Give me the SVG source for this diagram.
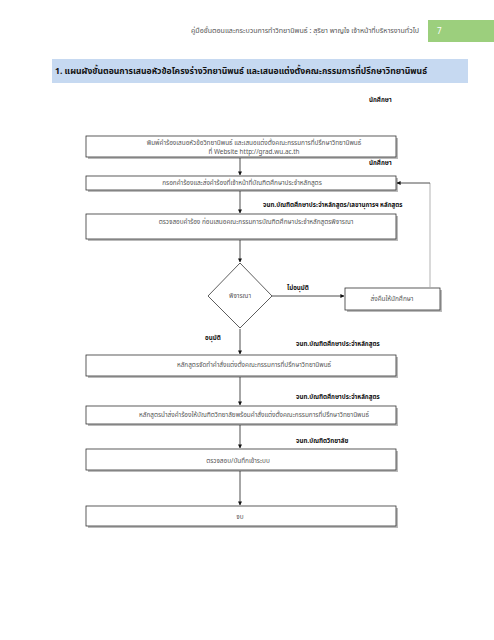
<svg xmlns="http://www.w3.org/2000/svg" width="494" height="640" viewBox="0 0 494 640">
<style>
text{font-family:"Noto Sans Thai","Noto Sans","DejaVu Sans","Liberation Sans",sans-serif;fill:#444}
.t{font-size:6.4px;text-anchor:middle;fill:#555}
.l{font-size:6.2px;font-weight:bold;fill:#111}
.box{fill:#fff;stroke:#333;stroke-width:0.8}
.sh{fill:#bbb}
.c{stroke:#222;stroke-width:0.8;fill:none}
</style>
<defs>
<marker id="ah" viewBox="0 0 10 10" refX="9" refY="5" markerWidth="5" markerHeight="5" orient="auto"><path d="M0,0 L10,5 L0,10 z" fill="#111"/></marker>
</defs>
<rect width="494" height="640" fill="#fff"/>
<g id="header">
<text x="191" y="33" textLength="228" lengthAdjust="spacingAndGlyphs" style="font-size:6.8px;fill:#555">คู่มือขั้นตอนและกระบวนการทำวิทยานิพนธ์ : สุริยา พาญใจ  เจ้าหน้าที่บริหารงานทั่วไป</text>
<rect x="428" y="20" width="66" height="22" fill="#9ccf7d"/>
<text x="437" y="34" style="font-size:8px;fill:#fff">7</text>
</g>
<g id="title">
<rect x="52" y="59" width="416" height="24" fill="#c6d9f1"/>
<text x="55" y="74" textLength="372" lengthAdjust="spacingAndGlyphs" style="font-size:9px;font-weight:bold;fill:#111">1.  แผนผังขั้นตอนการเสนอหัวข้อโครงร่างวิทยานิพนธ์ และเสนอแต่งตั้งคณะกรรมการที่ปรึกษาวิทยานิพนธ์</text>
</g>
<g id="labels">
<text class="l" x="369" y="102">นักศึกษา</text>
<text class="l" x="369" y="165">นักศึกษา</text>
<text class="l" x="263" y="207">จนท.บัณฑิตศึกษาประจำหลักสูตร/เลขานุการฯ หลักสูตร</text>
<text class="l" x="287" y="290">ไม่อนุมัติ</text>
<text class="l" x="205" y="340">อนุมัติ</text>
<text class="l" x="296" y="346">จนท.บัณฑิตศึกษาประจำหลักสูตร</text>
<text class="l" x="296" y="399">จนท.บัณฑิตศึกษาประจำหลักสูตร</text>
<text class="l" x="296" y="443">จนท.บัณฑิตวิทยาลัย</text>
</g>
<g id="n1">
<rect class="sh" x="88" y="138" width="310" height="21"/>
<rect class="box" x="86" y="136" width="310" height="21"/>
<text class="t" x="254" y="145">พิมพ์คำร้องเสนอหัวข้อวิทยานิพนธ์ และเสนอแต่งตั้งคณะกรรมการที่ปรึกษาวิทยานิพนธ์</text>
<text class="t" x="254" y="154">ที่ Website http://grad.wu.ac.th</text>
</g>
<g id="n2">
<rect class="sh" x="88" y="178" width="310" height="14"/>
<rect class="box" x="86" y="176" width="310" height="14"/>
<text class="t" x="242" y="185">กรอกคำร้องและส่งคำร้องที่เจ้าหน้าที่บัณฑิตศึกษาประจำหลักสูตร</text>
</g>
<g id="n3">
<rect class="sh" x="88" y="216" width="310" height="25"/>
<rect class="box" x="86" y="214" width="310" height="25"/>
<text class="t" x="256" y="224">ตรวจสอบคำร้อง ก่อนเสนอคณะกรรมการบัณฑิตศึกษาประจำหลักสูตรพิจารณา</text>
</g>
<g id="n4">
<path d="M240,263 L272,296 L240,328 L208,296 Z" class="box"/>
<text class="t" x="240" y="298">พิจารณา</text>
</g>
<g id="n5">
<rect class="sh" x="347" y="290" width="95" height="22"/>
<rect class="box" x="345" y="288" width="95" height="22"/>
<text class="t" x="392" y="301">ส่งคืนให้นักศึกษา</text>
</g>
<g id="n6">
<rect class="sh" x="88" y="357" width="310" height="21"/>
<rect class="box" x="86" y="355" width="310" height="21"/>
<text class="t" x="254" y="367">หลักสูตรจัดทำคำสั่งแต่งตั้งคณะกรรมการที่ปรึกษาวิทยานิพนธ์</text>
</g>
<g id="n7">
<rect class="sh" x="88" y="408" width="310" height="18"/>
<rect class="box" x="86" y="406" width="310" height="18"/>
<text class="t" x="254" y="417">หลักสูตรนำส่งคำร้องให้บัณฑิตวิทยาลัยพร้อมคำสั่งแต่งตั้งคณะกรรมการที่ปรึกษาวิทยานิพนธ์</text>
</g>
<g id="n8">
<rect class="sh" x="88" y="451" width="310" height="21"/>
<rect class="box" x="86" y="449" width="310" height="21"/>
<text class="t" x="238" y="463">ตรวจสอบ/บันทึกเข้าระบบ</text>
</g>
<g id="n9">
<rect class="sh" x="88" y="508" width="310" height="20"/>
<rect class="box" x="86" y="506" width="310" height="20"/>
<text class="t" x="240" y="519">จบ</text>
</g>
<g id="connectors">
<line class="c" x1="240" y1="158" x2="240" y2="175" marker-end="url(#ah)"/>
<line class="c" x1="240" y1="191" x2="240" y2="213" marker-end="url(#ah)"/>
<line class="c" x1="240" y1="240" x2="240" y2="262" marker-end="url(#ah)"/>
<line class="c" x1="272" y1="296" x2="344" y2="296" marker-end="url(#ah)"/>
<polyline points="430,288 430,183" stroke="#aaa" stroke-width="0.9" fill="none"/>
<line class="c" x1="430" y1="183" x2="397" y2="183" marker-end="url(#ah)"/>
<line class="c" x1="240" y1="329" x2="240" y2="354" marker-end="url(#ah)"/>
<line class="c" x1="240" y1="377" x2="240" y2="405" marker-end="url(#ah)"/>
<line class="c" x1="240" y1="425" x2="240" y2="448" marker-end="url(#ah)"/>
<line class="c" x1="240" y1="471" x2="240" y2="505" marker-end="url(#ah)"/>
</g>
</svg>
